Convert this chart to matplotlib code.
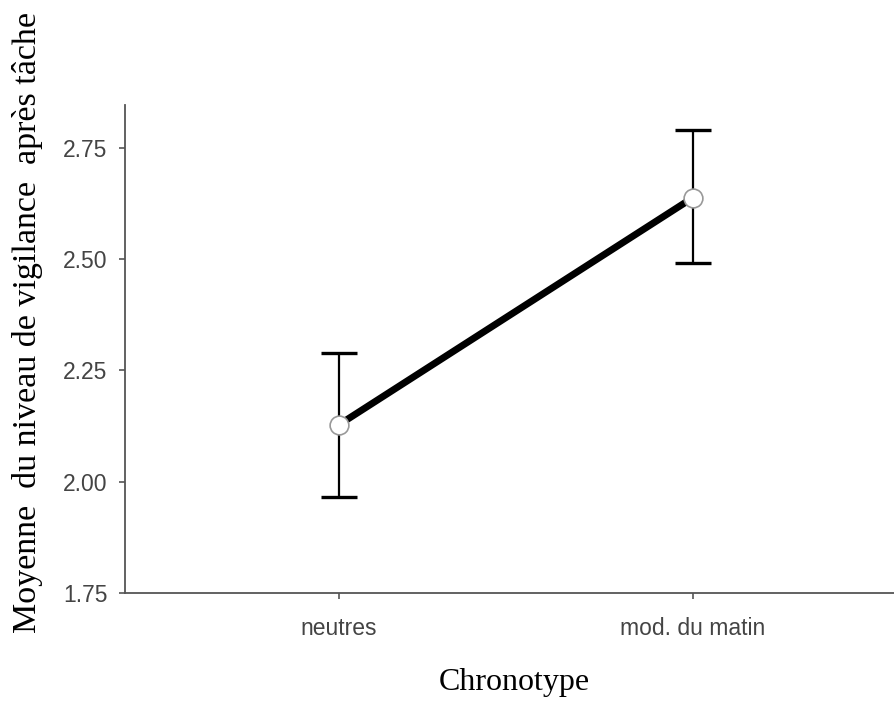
import matplotlib
matplotlib.use("Agg")
import matplotlib.pyplot as plt

# data
groups = ["neutres", "mod. du matin"]
means = [2.128, 2.638]
upper = [2.289, 2.789]
lower = [1.966, 2.490]

xpos = [1, 2]
err_lo = [m - l for m, l in zip(means, lower)]
err_hi = [u - m for u, m in zip(upper, means)]

fig = plt.figure(figsize=(8.94, 7.04), dpi=100)
ax = fig.add_axes([0.1398, 0.1577, 0.8602, 0.6932])

ax.plot(xpos, means, color="black", lw=5, zorder=2)
ax.errorbar(xpos, means, yerr=[err_lo, err_hi], fmt="none", ecolor="black",
            elinewidth=1.6, capsize=13, capthick=2.4, zorder=1)
ax.plot(xpos, means, "o", ms=13.5, mfc="white", mec="#999999", mew=1.2, zorder=3)

ax.set_xlim(0.395, 2.568)
ax.set_ylim(1.75, 2.846)
ax.set_yticks([1.75, 2.00, 2.25, 2.50, 2.75])
ax.set_yticklabels(["1.75", "2.00", "2.25", "2.50", "2.75"])
ax.set_xticks(xpos)
ax.set_xticklabels(groups)

for s in ["top", "right"]:
    ax.spines[s].set_visible(False)
for s in ["left", "bottom"]:
    ax.spines[s].set_color("#555555")
    ax.spines[s].set_linewidth(1.3)

ax.tick_params(axis="both", colors="#555555", length=4.5, width=1.2,
               labelsize=16.5, labelcolor="#444444")
ax.tick_params(axis="x", pad=13)
ax.tick_params(axis="y", pad=8)
for lab in ax.get_xticklabels() + ax.get_yticklabels():
    lab.set_family("Liberation Sans")

fig.text(0.031, 0.5426, "Moyenne  du niveau de vigilance  après tâche",
         rotation=90, ha="center", va="center", family="Liberation Serif",
         fontsize=24.5)
fig.text(0.575, 0.0199, "Chronotype", ha="center", va="baseline",
         family="Liberation Serif", fontsize=23)

fig.savefig("out.png", dpi=100)
